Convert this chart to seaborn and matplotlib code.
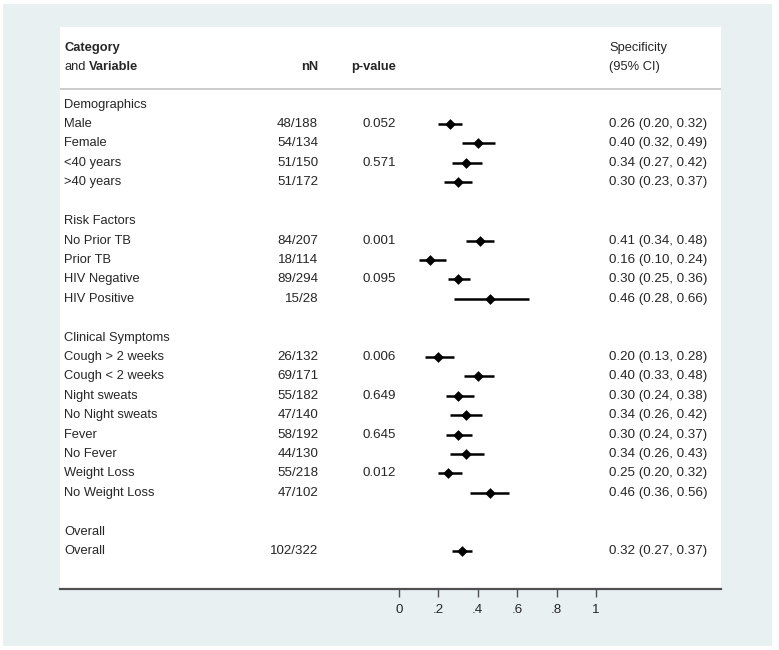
import matplotlib
matplotlib.use("Agg")
import matplotlib.pyplot as plt
from matplotlib.patches import Rectangle
import pandas as pd
import seaborn as sns

# rows of the table, top to bottom (None = blank spacer row)
labels = ["Demographics", "Male", "Female", "<40 years", ">40 years", None,
          "Risk Factors", "No Prior TB", "Prior TB", "HIV Negative", "HIV Positive", None,
          "Clinical Symptoms", "Cough > 2 weeks", "Cough < 2 weeks", "Night sweats",
          "No Night sweats", "Fever", "No Fever", "Weight Loss", "No Weight Loss", None,
          "Overall", "Overall"]
nN = ["", "48/188", "54/134", "51/150", "51/172", "",
      "", "84/207", "18/114", "89/294", "15/28", "",
      "", "26/132", "69/171", "55/182", "47/140", "58/192", "44/130", "55/218", "47/102", "",
      "", "102/322"]
pvals = ["", "0.052", "", "0.571", "", "",
         "", "0.001", "", "0.095", "", "",
         "", "0.006", "", "0.649", "", "0.645", "", "0.012", "", "",
         "", ""]
est = [None, 0.26, 0.40, 0.34, 0.30, None,
       None, 0.41, 0.16, 0.30, 0.46, None,
       None, 0.20, 0.40, 0.30, 0.34, 0.30, 0.34, 0.25, 0.46, None,
       None, 0.32]
lo = [None, 0.20, 0.32, 0.27, 0.23, None,
      None, 0.34, 0.10, 0.25, 0.28, None,
      None, 0.13, 0.33, 0.24, 0.26, 0.24, 0.26, 0.20, 0.36, None,
      None, 0.27]
hi = [None, 0.32, 0.49, 0.42, 0.37, None,
      None, 0.48, 0.24, 0.36, 0.66, None,
      None, 0.28, 0.48, 0.38, 0.42, 0.37, 0.43, 0.32, 0.56, None,
      None, 0.37]
xticks = [0, 0.2, 0.4, 0.6, 0.8, 1]
xticklabels = ["0", ".2", ".4", ".6", ".8", "1"]

sns.set_style("white")
plt.rcParams["font.family"] = ["Liberation Sans", "DejaVu Sans"]
FS = 9.3
FSN = 9.6  # number columns look a touch wider

W, H = 779, 650
fig = plt.figure(figsize=(W / 100, H / 100), dpi=100, facecolor="white")
fig.patches.append(Rectangle((3 / W, 4 / H), 769 / W, 642 / H, transform=fig.transFigure,
                             facecolor="#e8f0f2", edgecolor="none", zorder=-10))

ax = fig.add_axes([60 / W, 1 - 589 / H, 661 / W, 562 / H])
ax.set_facecolor("white")

df = pd.DataFrame({"row": range(len(labels)), "est": est, "lo": lo, "hi": hi}).dropna()
ax.hlines(df["row"], df["lo"], df["hi"], color="black", lw=1.8, zorder=2)
sns.scatterplot(data=df, x="est", y="row", marker="D", color="black", s=30,
                edgecolor="black", linewidth=0, ax=ax, zorder=3, legend=False)

x_lab, x_n, x_p, x_s = -1.70, -0.41, -0.015, 1.066
for i, lab in enumerate(labels):
    if lab is None:
        continue
    ax.text(x_lab, i, lab, fontsize=FS, va="center", ha="left")
    if nN[i]:
        ax.text(x_n, i, nN[i], fontsize=FSN, va="center", ha="right")
    if pvals[i]:
        ax.text(x_p, i, pvals[i], fontsize=FSN, va="center", ha="right")
    if est[i] is not None:
        ax.text(x_s, i, f"{est[i]:.2f} ({lo[i]:.2f}, {hi[i]:.2f})", fontsize=FSN,
                va="center", ha="left")

# header
ax.text(x_lab, -2.94, "Category", fontsize=FS, fontweight="bold", va="center")
t = ax.text(x_lab, -1.92, "and", fontsize=FS, va="center")
ax.annotate("Variable", xy=(1, 0.5), xycoords=t, xytext=(2.6, 0), textcoords="offset points",
            fontsize=FS, fontweight="bold", va="center", ha="left")
ax.text(x_n, -1.92, "nN", fontsize=FS, fontweight="bold", va="center", ha="right")
ax.text(x_p, -1.92, "p-value", fontsize=FS, fontweight="bold", va="center", ha="right")
ax.text(x_s, -2.94, "Specificity", fontsize=FS, va="center")
ax.text(x_s, -1.92, "(95% CI)", fontsize=FS, va="center")
ax.axhline(-0.8, color="#c8c8c8", lw=1.3)

ax.set_xlim(-1.721, 1.635)
ax.set_ylim(24.95, -4.0)
for s in ["top", "right", "left"]:
    ax.spines[s].set_visible(False)
ax.spines["bottom"].set_color("#505050")
ax.spines["bottom"].set_linewidth(1.6)
ax.set_xticks(xticks)
ax.set_xticklabels(xticklabels, fontsize=FSN)
ax.tick_params(axis="x", bottom=True, direction="out", length=6, width=1, color="#505050", pad=5)
ax.set_yticks([])
ax.set_xlabel("")
ax.set_ylabel("")

fig.savefig("out.png", dpi=100, facecolor=fig.get_facecolor())
